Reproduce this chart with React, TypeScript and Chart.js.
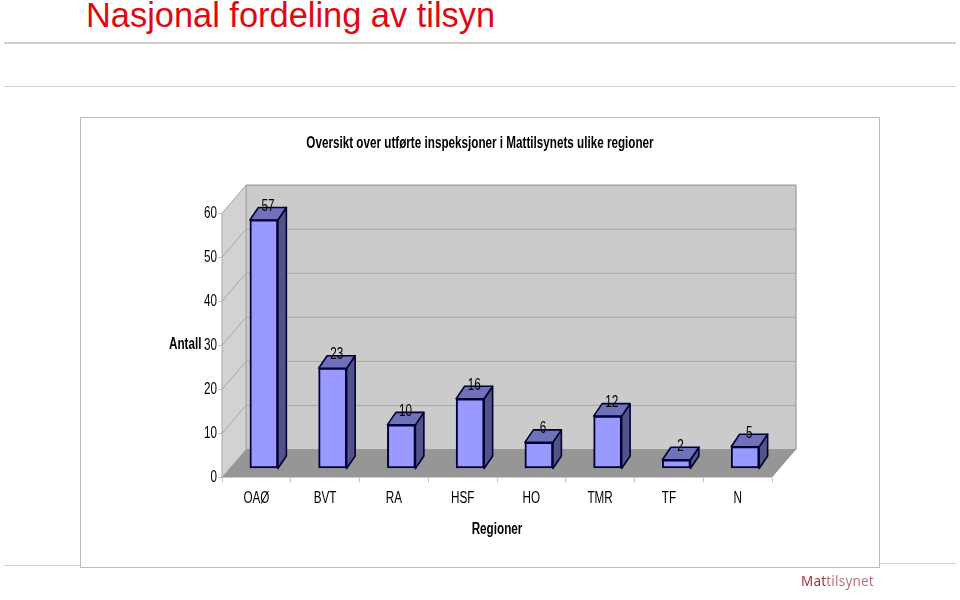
import React, { useEffect, useRef } from "react";
import { Chart, registerables } from "chart.js";

Chart.register(...registerables);

const pageTitle = "Nasjonal fordeling av tilsyn";
const chartTitle = "Oversikt over utførte inspeksjoner i Mattilsynets ulike regioner";
const xTitle = "Regioner";
const yTitle = "Antall";
const categories = ["OAØ", "BVT", "RA", "HSF", "HO", "TMR", "TF", "N"];
const inspections = [57, 23, 10, 16, 6, 12, 2, 5];

const FONT = "'Liberation Sans', sans-serif";
const TEXT_SQUEEZE = 0.73;
const DEPTH_X = 24;
const DEPTH_Y = 28;
const BAR_SHIFT_X = 7.5;
const BAR_SHIFT_Y = 9;
const BAR_SCALE = 0.99;
const BAR_DEPTH_X = 8.5;
const BAR_DEPTH_Y = 12.5;

function poly(ctx: CanvasRenderingContext2D, pts: number[][], fill: string, stroke?: string, lw = 1) {
  ctx.beginPath();
  pts.forEach((p, i) => (i ? ctx.lineTo(p[0], p[1]) : ctx.moveTo(p[0], p[1])));
  ctx.closePath();
  ctx.fillStyle = fill;
  ctx.fill();
  if (stroke) {
    ctx.strokeStyle = stroke;
    ctx.lineWidth = lw;
    ctx.lineJoin = "round";
    ctx.stroke();
  }
}

const threeD = {
  id: "threeD",
  beforeDraw(chart: any) {
    // The reference's text is horizontally condensed: squeeze every label about its anchor.
    const ctx = chart.ctx;
    if (!ctx.__squeezed) {
      const original = ctx.fillText.bind(ctx);
      ctx.fillText = (text: string, x: number, y: number) => {
        ctx.save();
        ctx.translate(x, y);
        ctx.scale(TEXT_SQUEEZE, 1);
        original(text, 0, 0);
        ctx.restore();
      };
      ctx.__squeezed = true;
    }
  },
  beforeDatasetsDraw(chart: any) {
    const { ctx, chartArea: a, scales } = chart;
    const y = scales.y;
    ctx.save();
    poly(ctx, [[a.left + DEPTH_X, a.top - DEPTH_Y], [a.right + DEPTH_X, a.top - DEPTH_Y], [a.right + DEPTH_X, a.bottom - DEPTH_Y], [a.left + DEPTH_X, a.bottom - DEPTH_Y]], "#cbcbcb", "#9a9a9a", 1.2);
    poly(ctx, [[a.left, a.bottom], [a.left, a.top], [a.left + DEPTH_X, a.top - DEPTH_Y], [a.left + DEPTH_X, a.bottom - DEPTH_Y]], "#d2d2d2", "#a6a6a6", 1);
    y.ticks.forEach((t: any) => {
      if (t.value === 0 || t.value === 60) return;
      const py = y.getPixelForValue(t.value);
      ctx.beginPath();
      ctx.moveTo(a.left, py);
      ctx.lineTo(a.left + DEPTH_X, py - DEPTH_Y);
      ctx.lineTo(a.right + DEPTH_X, py - DEPTH_Y);
      ctx.strokeStyle = "#a8a8a8";
      ctx.lineWidth = 1;
      ctx.stroke();
    });
    poly(ctx, [[a.left, a.bottom], [a.right, a.bottom], [a.right + DEPTH_X, a.bottom - DEPTH_Y], [a.left + DEPTH_X, a.bottom - DEPTH_Y]], "#969696");
    const base = a.bottom - BAR_SHIFT_Y;
    chart.getDatasetMeta(0).data.forEach((el: any) => {
      const l = el.x - el.width / 2 + BAR_SHIFT_X;
      const r = el.x + el.width / 2 + BAR_SHIFT_X;
      const t = base + (el.y - a.bottom) * BAR_SCALE;
      const navy = "#000033";
      poly(ctx, [[r, t], [r + BAR_DEPTH_X, t - BAR_DEPTH_Y], [r + BAR_DEPTH_X, base - BAR_DEPTH_Y], [r, base]], "#53538c", navy, 1.6);
      poly(ctx, [[l, t], [r, t], [r + BAR_DEPTH_X, t - BAR_DEPTH_Y], [l + BAR_DEPTH_X, t - BAR_DEPTH_Y]], "#7171bb", navy, 1.6);
    });
    ctx.restore();
    ctx.save();
    ctx.translate(BAR_SHIFT_X, base);
    ctx.scale(1, BAR_SCALE);
    ctx.translate(0, -a.bottom);
  },
  afterDatasetsDraw(chart: any) {
    const { ctx, chartArea: a } = chart;
    ctx.restore();
    const base = a.bottom - BAR_SHIFT_Y;
    ctx.save();
    ctx.font = `16px ${FONT}`;
    ctx.fillStyle = "#000";
    ctx.textAlign = "center";
    ctx.textBaseline = "middle";
    chart.getDatasetMeta(0).data.forEach((el: any, i: number) => {
      const t = base + (el.y - a.bottom) * BAR_SCALE;
      ctx.fillText(String(inspections[i]), el.x + BAR_SHIFT_X + 4, t - 13.5);
    });
    ctx.font = `bold 16px ${FONT}`;
    ctx.textAlign = "left";
    ctx.fillText(yTitle, 169, 345);
    ctx.restore();
  },
};

export default function App() {
  const ref = useRef<HTMLCanvasElement>(null);
  useEffect(() => {
    const chart = new Chart(ref.current!, {
      type: "bar",
      plugins: [threeD],
      data: {
        labels: categories,
        datasets: [
          {
            label: "Antall",
            data: inspections,
            backgroundColor: "#9999ff",
            borderColor: "#000033",
            borderWidth: 2,
            borderSkipped: false,
            barThickness: 28,
            clip: false as any,
          },
        ],
      },
      options: {
        animation: false,
        responsive: false,
        layout: { padding: 0 },
        plugins: {
          legend: { display: false },
          tooltip: { enabled: false },
          title: {
            display: true,
            text: chartTitle,
            color: "#000",
            font: { family: FONT, size: 16, weight: "bold", lineHeight: 1.2 },
            padding: { top: 134, bottom: 60 },
          },
        },
        scales: {
          x: {
            afterFit: (s: any) => { s.height = 122.5; },
            grid: { display: true, drawOnChartArea: false, drawTicks: true, tickLength: 5, color: "#c4c4c4", offset: true },
            border: { display: false },
            ticks: { color: "#000", font: { family: FONT, size: 16 }, padding: 6, maxRotation: 0, autoSkip: false },
            title: { display: true, text: xTitle, color: "#000", font: { family: FONT, size: 16, weight: "bold", lineHeight: 1.2 }, padding: { top: 0, bottom: 60.5 } },
          },
          y: {
            min: 0,
            max: 60,
            afterFit: (s: any) => { s.width = 222; },
            grid: { display: true, drawOnChartArea: false, drawTicks: true, tickLength: 4, color: "#c4c4c4" },
            border: { display: false },
            ticks: { stepSize: 10, color: "#000", font: { family: FONT, size: 16 }, padding: 1 },
          },
          rightMargin: {
            position: "right",
            afterFit: (s: any) => { s.width = 188; },
            grid: { display: false },
            border: { display: false },
            ticks: { display: false },
          },
        },
      },
    });
    return () => chart.destroy();
  }, []);

  const rule = (top: number, left: number, width: number, h = 2): React.CSSProperties => ({
    position: "absolute", top, left, width, height: h, background: "#d3d2c6",
  });

  return (
    <div style={{ position: "absolute", left: 0, top: 0, width: 960, height: 600, overflow: "hidden", background: "#fff" }}>
      <div style={{ position: "absolute", left: 86, top: -6, font: "34.4px 'Liberation Sans'", color: "#dd0a12", whiteSpace: "nowrap", lineHeight: "42px" }}>{pageTitle}</div>
      <div style={rule(42, 4, 952)} />
      <div style={rule(86, 4, 952, 1)} />
      <div style={rule(565, 4, 77, 1)} />
      <div style={rule(563, 880, 76, 1)} />
      <div style={{ position: "absolute", left: 80, top: 117, width: 798, height: 449, border: "1px solid #bdbdbd", background: "#fff" }} />
      <canvas ref={ref} width={960} height={600} style={{ position: "absolute", left: 0, top: 0 }} />
      <div style={{ position: "absolute", left: 801, top: 572, font: "13.5px 'Noto Sans'", color: "#b8737a", whiteSpace: "nowrap", lineHeight: "18px", letterSpacing: "0.2px" }}>
        <span style={{ color: "#a8323a" }}>Mat</span>tilsynet
      </div>
    </div>
  );
}
